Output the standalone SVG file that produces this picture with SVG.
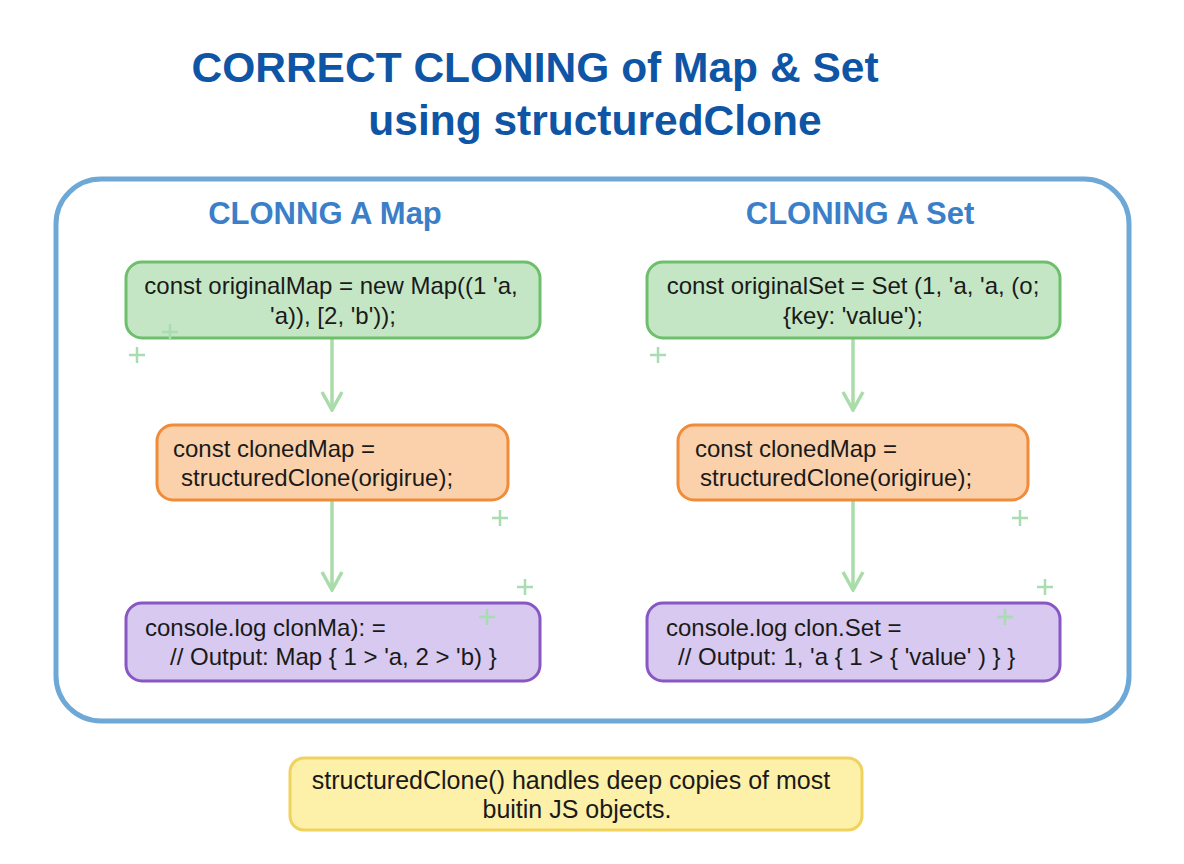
<svg xmlns="http://www.w3.org/2000/svg" width="1184" height="864" viewBox="0 0 1184 864">
<defs>
<style>
text{font-family:"Liberation Sans",Arial,sans-serif}
.title{font-size:42.5px;font-weight:bold;fill:#0f55a5}
.head{font-size:31px;font-weight:bold;fill:#3b7fc9}
.code{font-size:24px;fill:#1a1a1a}
.note{font-size:25px;fill:#1a1a1a}
.g{fill:#c5e6c4;stroke:#6dbf6b;stroke-width:3}
.o{fill:#fbd1ab;stroke:#f08b3a;stroke-width:3}
.p{fill:#d7c9ef;stroke:#8857c3;stroke-width:3}
.arr{stroke:#a9dca9;stroke-width:3.5;fill:none}
.plus{stroke:#a9dcb0;stroke-width:2.5}
</style>
<marker id="ah" viewBox="0 0 24 24" refX="22" refY="12" markerWidth="24" markerHeight="24" markerUnits="userSpaceOnUse" orient="auto"><path d="M4,2 L22,12 L4,22" fill="none" stroke="#a9dca9" stroke-width="3.5"/></marker>
</defs>
<rect width="1184" height="864" fill="#fff"/>
<text class="title" x="535" y="82" text-anchor="middle">CORRECT CLONING of Map &amp; Set</text>
<text class="title" x="595" y="135" text-anchor="middle">using structuredClone</text>
<rect x="56" y="179" width="1073" height="542" rx="45" fill="#fff" stroke="#6ea8d6" stroke-width="5"/>
<text class="head" x="325" y="224" text-anchor="middle">CLONNG A Map</text>
<text class="head" x="860" y="224" text-anchor="middle">CLONING A Set</text>
<g id="connectors">
<line class="arr" x1="332" y1="339" x2="332" y2="410" marker-end="url(#ah)"/>
<line class="arr" x1="332" y1="501" x2="332" y2="590" marker-end="url(#ah)"/>
<line class="arr" x1="853" y1="339" x2="853" y2="410" marker-end="url(#ah)"/>
<line class="arr" x1="853" y1="501" x2="853" y2="590" marker-end="url(#ah)"/>
</g>
<g id="mapOrig"><rect class="g" x="126" y="262" width="414" height="76" rx="16"/>
<text class="code" x="331" y="294" text-anchor="middle">const originalMap = new Map((1 'a,</text>
<text class="code" x="333" y="324" text-anchor="middle">'a)), [2, 'b'));</text></g>
<g id="mapClone"><rect class="o" x="157" y="425" width="351" height="75" rx="16"/>
<text class="code" x="173" y="457">const clonedMap =</text>
<text class="code" x="181" y="486">structuredClone(origirue);</text></g>
<g id="mapLog"><rect class="p" x="126" y="603" width="414" height="78" rx="16"/>
<text class="code" x="145" y="636">console.log clonMa): =</text>
<text class="code" x="170" y="665">// Output: Map { 1 &gt; 'a, 2 &gt; 'b) }</text></g>
<g id="setOrig"><rect class="g" x="647" y="262" width="413" height="76" rx="16"/>
<text class="code" x="853" y="294" text-anchor="middle">const originalSet = Set (1, 'a, 'a, (o;</text>
<text class="code" x="853" y="324" text-anchor="middle">{key: 'value');</text></g>
<g id="setClone"><rect class="o" x="678" y="425" width="350" height="75" rx="16"/>
<text class="code" x="695" y="457">const clonedMap =</text>
<text class="code" x="700" y="486">structuredClone(origirue);</text></g>
<g id="setLog"><rect class="p" x="647" y="603" width="413" height="78" rx="16"/>
<text class="code" x="666" y="636">console.log clon.Set =</text>
<text class="code" x="678" y="665">// Output: 1, 'a { 1 &gt; { 'value' ) } }</text></g>
<g id="plus">
<path class="plus" d="M129,355h16M137,347v16 M162,332h16M170,324v16 M492,518h16M500,510v16 M517,587h16M525,579v16 M479,617h16M487,609v16 M650,355h16M658,347v16 M1012,518h16M1020,510v16 M1037,587h16M1045,579v16 M997,617h16M1005,609v16"/>
</g>
<g id="note"><rect x="290" y="758" width="572" height="72" rx="14" fill="#fdf0a8" stroke="#f0d25e" stroke-width="3"/>
<text class="note" x="571" y="789" text-anchor="middle">structuredClone() handles deep copies of most</text>
<text class="note" x="577" y="818" text-anchor="middle">buitin JS objects.</text></g>
</svg>
